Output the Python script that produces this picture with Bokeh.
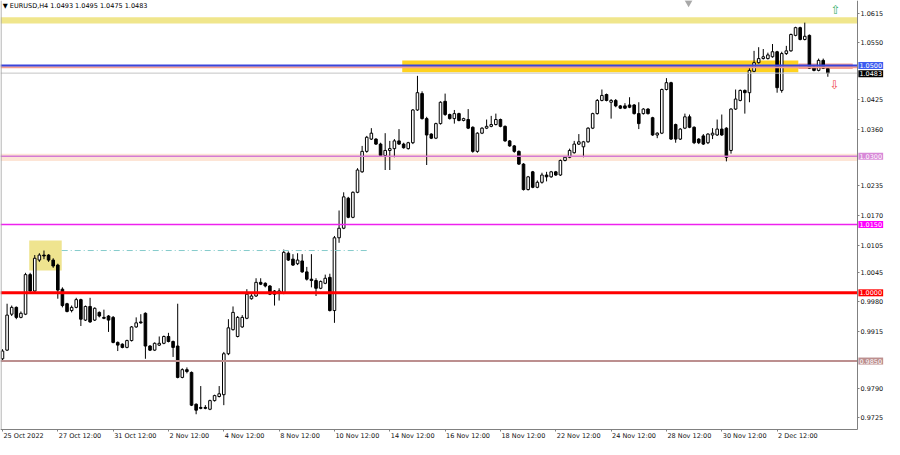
from bokeh.plotting import figure
from bokeh.models import Range1d, FixedTicker, Label, PrintfTickFormatter, BoxAnnotation, ColumnDataSource
from bokeh.embed import file_html
from bokeh.resources import INLINE

symbol_title = "▼ EURUSD,H4  1.0493 1.0495 1.0475 1.0483"

opens = [0.9855, 0.9874, 0.9953, 0.9968, 0.9946, 0.9953, 1.0040, 1.0004, 1.0072, 1.0083,
         1.0083, 1.0072, 1.0061, 1.0008, 0.9976, 0.9961, 0.9968, 0.9985, 0.9940, 0.9970,
         0.9940, 0.9957, 0.9946, 0.9949, 0.9946, 0.9891, 0.9887, 0.9880, 0.9895, 0.9925,
         0.9936, 0.9955, 0.9883, 0.9874, 0.9885, 0.9889, 0.9904, 0.9893, 0.9883, 0.9814,
         0.9831, 0.9825, 0.9755, 0.9748, 0.9748, 0.9744, 0.9763, 0.9772, 0.9776, 0.9866,
         0.9919, 0.9904, 0.9925, 0.9944, 0.9987, 0.9993, 1.0023, 1.0021, 1.0015, 1.0004,
         1.0000, 1.0000, 1.0087, 1.0074, 1.0064, 1.0070, 1.0046, 1.0030, 1.0027, 1.0010,
         1.0021, 1.0034, 0.9961, 1.0121, 1.0142, 1.0208, 1.0166, 1.0221, 1.0266, 1.0311,
         1.0338, 1.0338, 1.0327, 1.0302, 1.0313, 1.0317, 1.0334, 1.0327, 1.0317, 1.0330,
         1.0402, 1.0438, 1.0383, 1.0349, 1.0340, 1.0372, 1.0421, 1.0392, 1.0383, 1.0394,
         1.0379, 1.0381, 1.0364, 1.0311, 1.0351, 1.0362, 1.0366, 1.0370, 1.0381, 1.0366,
         1.0334, 1.0323, 1.0311, 1.0283, 1.0227, 1.0266, 1.0232, 1.0243, 1.0259, 1.0255,
         1.0266, 1.0259, 1.0291, 1.0298, 1.0308, 1.0327, 1.0321, 1.0332, 1.0362, 1.0394,
         1.0423, 1.0436, 1.0419, 1.0423, 1.0411, 1.0411, 1.0413, 1.0413, 1.0394, 1.0394,
         1.0404, 1.0385, 1.0347, 1.0351, 1.0447, 1.0462, 1.0370, 1.0338, 1.0362, 1.0387,
         1.0364, 1.0338, 1.0345, 1.0330, 1.0347, 1.0347, 1.0360, 1.0362, 1.0313, 1.0404,
         1.0423, 1.0445, 1.0440, 1.0487, 1.0506, 1.0515, 1.0515, 1.0519, 1.0530, 1.0445,
         1.0526, 1.0532, 1.0566, 1.0583, 1.0557, 1.0566, 1.0496, 1.0489, 1.0511, 1.0493]

highs = [0.9876, 0.9976, 0.9972, 0.9970, 0.9959, 1.0044, 1.0044, 1.0083, 1.0087, 1.0093,
         1.0085, 1.0076, 1.0064, 1.0012, 0.9978, 0.9972, 0.9989, 0.9987, 0.9972, 0.9989,
         0.9968, 0.9959, 0.9963, 0.9951, 0.9949, 0.9893, 0.9889, 0.9897, 0.9927, 0.9946,
         0.9953, 0.9957, 0.9885, 0.9891, 0.9904, 0.9906, 0.9912, 0.9895, 0.9976, 0.9834,
         0.9836, 0.9827, 0.9757, 0.9795, 0.9753, 0.9765, 0.9776, 0.9795, 0.9870, 0.9942,
         0.9970, 0.9949, 0.9951, 1.0008, 0.9997, 1.0032, 1.0032, 1.0023, 1.0017, 1.0006,
         1.0010, 1.0095, 1.0091, 1.0085, 1.0087, 1.0085, 1.0057, 1.0085, 1.0032, 1.0027,
         1.0040, 1.0042, 1.0125, 1.0181, 1.0221, 1.0211, 1.0223, 1.0274, 1.0323, 1.0345,
         1.0362, 1.0340, 1.0330, 1.0351, 1.0334, 1.0338, 1.0360, 1.0330, 1.0332, 1.0404,
         1.0477, 1.0443, 1.0387, 1.0351, 1.0374, 1.0421, 1.0438, 1.0394, 1.0402, 1.0396,
         1.0385, 1.0404, 1.0366, 1.0353, 1.0364, 1.0381, 1.0389, 1.0394, 1.0383, 1.0368,
         1.0336, 1.0325, 1.0313, 1.0285, 1.0257, 1.0268, 1.0247, 1.0264, 1.0266, 1.0268,
         1.0268, 1.0293, 1.0300, 1.0317, 1.0334, 1.0349, 1.0334, 1.0364, 1.0396, 1.0426,
         1.0447, 1.0438, 1.0426, 1.0426, 1.0413, 1.0417, 1.0430, 1.0415, 1.0419, 1.0406,
         1.0406, 1.0387, 1.0353, 1.0449, 1.0472, 1.0464, 1.0372, 1.0362, 1.0394, 1.0392,
         1.0366, 1.0340, 1.0349, 1.0351, 1.0362, 1.0381, 1.0392, 1.0364, 1.0406, 1.0447,
         1.0447, 1.0447, 1.0494, 1.0532, 1.0540, 1.0536, 1.0528, 1.0547, 1.0532, 1.0530,
         1.0543, 1.0570, 1.0585, 1.0585, 1.0594, 1.0568, 1.0498, 1.0515, 1.0515, 1.0495]

lows = [0.9848, 0.9872, 0.9949, 0.9942, 0.9944, 0.9951, 1.0002, 1.0002, 1.0068, 1.0074,
        1.0068, 1.0055, 0.9987, 0.9968, 0.9957, 0.9957, 0.9966, 0.9927, 0.9938, 0.9934,
        0.9938, 0.9946, 0.9942, 0.9914, 0.9889, 0.9872, 0.9878, 0.9878, 0.9893, 0.9923,
        0.9932, 0.9855, 0.9872, 0.9872, 0.9883, 0.9887, 0.9891, 0.9859, 0.9812, 0.9812,
        0.9823, 0.9751, 0.9733, 0.9744, 0.9744, 0.9742, 0.9761, 0.9770, 0.9753, 0.9863,
        0.9917, 0.9902, 0.9923, 0.9942, 0.9985, 0.9991, 1.0017, 1.0012, 0.9995, 0.9972,
        0.9983, 0.9997, 1.0070, 1.0059, 1.0061, 1.0044, 1.0027, 1.0012, 0.9993, 1.0008,
        1.0019, 0.9959, 0.9934, 1.0110, 1.0140, 1.0164, 1.0164, 1.0219, 1.0264, 1.0308,
        1.0336, 1.0325, 1.0300, 1.0270, 1.0270, 1.0298, 1.0325, 1.0317, 1.0315, 1.0327,
        1.0400, 1.0381, 1.0281, 1.0338, 1.0338, 1.0370, 1.0389, 1.0381, 1.0372, 1.0377,
        1.0377, 1.0360, 1.0308, 1.0308, 1.0349, 1.0360, 1.0364, 1.0368, 1.0364, 1.0332,
        1.0321, 1.0308, 1.0281, 1.0225, 1.0225, 1.0230, 1.0230, 1.0240, 1.0245, 1.0253,
        1.0257, 1.0257, 1.0289, 1.0296, 1.0306, 1.0325, 1.0298, 1.0330, 1.0360, 1.0392,
        1.0421, 1.0421, 1.0383, 1.0408, 1.0404, 1.0404, 1.0406, 1.0392, 1.0360, 1.0392,
        1.0392, 1.0345, 1.0340, 1.0349, 1.0445, 1.0336, 1.0330, 1.0336, 1.0360, 1.0362,
        1.0327, 1.0327, 1.0325, 1.0327, 1.0338, 1.0345, 1.0345, 1.0289, 1.0306, 1.0402,
        1.0421, 1.0394, 1.0419, 1.0485, 1.0504, 1.0513, 1.0513, 1.0517, 1.0440, 1.0440,
        1.0523, 1.0530, 1.0564, 1.0555, 1.0555, 1.0492, 1.0487, 1.0487, 1.0492, 1.0475]

closes = [0.9872, 0.9951, 0.9968, 0.9946, 0.9955, 1.0040, 1.0004, 1.0076, 1.0083, 1.0081,
          1.0072, 1.0059, 1.0006, 0.9972, 0.9959, 0.9968, 0.9985, 0.9942, 0.9970, 0.9936,
          0.9966, 0.9949, 0.9944, 0.9940, 0.9891, 0.9885, 0.9880, 0.9895, 0.9925, 0.9934,
          0.9934, 0.9883, 0.9874, 0.9889, 0.9889, 0.9904, 0.9893, 0.9880, 0.9814, 0.9831,
          0.9827, 0.9753, 0.9742, 0.9746, 0.9746, 0.9763, 0.9774, 0.9778, 0.9866, 0.9923,
          0.9957, 0.9946, 0.9946, 0.9997, 0.9993, 1.0023, 1.0019, 1.0015, 0.9997, 0.9997,
          1.0004, 1.0089, 1.0072, 1.0061, 1.0072, 1.0046, 1.0030, 1.0027, 1.0010, 1.0025,
          1.0032, 0.9961, 1.0121, 1.0142, 1.0211, 1.0166, 1.0221, 1.0270, 1.0311, 1.0342,
          1.0351, 1.0327, 1.0302, 1.0313, 1.0317, 1.0334, 1.0327, 1.0319, 1.0330, 1.0402,
          1.0440, 1.0383, 1.0347, 1.0340, 1.0372, 1.0419, 1.0392, 1.0383, 1.0394, 1.0379,
          1.0383, 1.0362, 1.0311, 1.0351, 1.0362, 1.0366, 1.0370, 1.0381, 1.0366, 1.0334,
          1.0323, 1.0311, 1.0283, 1.0227, 1.0255, 1.0232, 1.0243, 1.0259, 1.0255, 1.0266,
          1.0259, 1.0291, 1.0298, 1.0313, 1.0327, 1.0332, 1.0332, 1.0362, 1.0394, 1.0423,
          1.0434, 1.0423, 1.0423, 1.0411, 1.0406, 1.0406, 1.0408, 1.0394, 1.0372, 1.0404,
          1.0394, 1.0347, 1.0351, 1.0447, 1.0462, 1.0338, 1.0338, 1.0360, 1.0387, 1.0364,
          1.0330, 1.0330, 1.0327, 1.0349, 1.0351, 1.0360, 1.0347, 1.0298, 1.0404, 1.0426,
          1.0445, 1.0440, 1.0489, 1.0506, 1.0515, 1.0519, 1.0523, 1.0530, 1.0451, 1.0526,
          1.0532, 1.0568, 1.0583, 1.0557, 1.0564, 1.0494, 1.0489, 1.0511, 1.0494, 1.0483]

date_ticks = [0, 12, 24, 36, 48, 60, 72, 84, 96, 108, 120, 132, 144, 156, 168]
date_labels = ["25 Oct 2022", "27 Oct 12:00", "31 Oct 12:00", "2 Nov 12:00", "4 Nov 12:00",
               "8 Nov 12:00", "10 Nov 12:00", "14 Nov 12:00", "16 Nov 12:00", "18 Nov 12:00",
               "22 Nov 12:00", "24 Nov 12:00", "28 Nov 12:00", "30 Nov 12:00", "2 Dec 12:00"]
price_ticks = [1.0615, 1.0550, 1.0425, 1.0360, 1.0235, 1.0170, 1.0105, 1.0045,
               0.9980, 0.9915, 0.9790, 0.9725]

# horizontal levels
level_prices = [1.0500, 1.0300, 1.0150, 1.0000, 0.9850]
level_colors = ["#3b45dc", "#d47ad4", "#ee22ee", "#ff0000", "#bc8f8f"]
level_widths = [2, 1.5, 1.5, 3, 2]
level_box_colors = ["#3c5cf0", "#d88ad8", "#ff00ff", "#ff0000", "#bc8f8f"]
current_price = 1.0483

# zones
top_band = (1.0592, 1.0606)
gold_zone = (86.7, 172.6, 1.0485, 1.0511)
salmon_zone = (172.6, 184.4, 1.0492, 1.0504)
peach_band = (1.0290, 1.0306)
flag_box = (5.8, 12.85, 1.0049, 1.0115)
dashdot_line = (12.85, 79.4, 1.0093)

# canvas geometry (in data units)
X0, X1 = -0.428, 191.29        # whole canvas width
Y0, Y1 = 0.96775, 1.06427      # whole canvas height
AXIS_X = 185.43                # price axis position
AXIS_Y = 0.96994               # time axis position
DATE_Y = 0.96940               # top of the date labels
FONT = "DejaVu Sans"

p = figure(width=884, height=439, x_range=Range1d(X0, X1), y_range=Range1d(Y0, Y1),
           output_backend="svg", toolbar_location=None, y_axis_location="right",
           min_border_left=0, min_border_top=0, min_border_right=0, min_border_bottom=0)
p.grid.visible = False
p.background_fill_color = "white"
p.border_fill_color = "white"
p.outline_line_color = None

# zones under candles
p.add_layout(BoxAnnotation(right=AXIS_X, bottom=top_band[0], top=top_band[1], fill_color="#f0e68c",
                           fill_alpha=1, line_color=None, level="underlay"))
p.add_layout(BoxAnnotation(left=gold_zone[0], right=gold_zone[1], bottom=gold_zone[2], top=gold_zone[3],
                           fill_color="#ffd21f", fill_alpha=1, line_color=None, level="underlay"))
p.add_layout(BoxAnnotation(left=salmon_zone[0], right=salmon_zone[1], bottom=salmon_zone[2], top=salmon_zone[3],
                           fill_color="#f5a092", fill_alpha=1, line_color=None, level="underlay"))
p.add_layout(BoxAnnotation(right=AXIS_X, bottom=peach_band[0], top=peach_band[1], fill_color="#fde5d6",
                           fill_alpha=1, line_color=None, level="underlay"))
p.add_layout(BoxAnnotation(left=flag_box[0], right=flag_box[1], bottom=flag_box[2], top=flag_box[3],
                           fill_color="#efe48f", fill_alpha=1, line_color=None, level="underlay"))

# candles
idx = list(range(len(opens)))
tops = [max(o, c) for o, c in zip(opens, closes)]
bottoms = [min(o, c) for o, c in zip(opens, closes)]
fills = ["white" if c >= o else "black" for o, c in zip(opens, closes)]
src = ColumnDataSource(dict(x=idx, hi=highs, lo=lows, top=tops, bottom=bottoms, fill=fills))
p.segment(x0="x", y0="lo", x1="x", y1="hi", source=src, line_color="black", line_width=1)
p.vbar(x="x", width=0.56, top="top", bottom="bottom", source=src, fill_color="fill",
       line_color="black", line_width=1)

# dash-dot line
p.segment(x0=[dashdot_line[0]], y0=[dashdot_line[2]], x1=[dashdot_line[1]], y1=[dashdot_line[2]],
          line_color="#86cccc", line_width=1, line_dash="6 3 1 3")

# level lines (stop at the price axis)
p.segment(x0=[X0], y0=[current_price], x1=[AXIS_X], y1=[current_price], line_color="#c4c4c4", line_width=1)
p.segment(x0=[X0], y0=[1.0496], x1=[AXIS_X], y1=[1.0496], line_color="#f5a092", line_width=2)
p.segment(x0=[X0] * len(level_prices), y0=level_prices, x1=[AXIS_X] * len(level_prices), y1=level_prices,
          line_color=level_colors, line_width=level_widths)

# left frame border
p.segment(x0=[X0 + 0.12], y0=[AXIS_Y], x1=[X0 + 0.12], y1=[Y1], line_color="#a0a0a0", line_width=1)

# axes (fixed inside the canvas)
ya = p.yaxis[0]
ya.fixed_location = AXIS_X
ya.bounds = (AXIS_Y, Y1)
ya.ticker = FixedTicker(ticks=price_ticks)
ya.formatter = PrintfTickFormatter(format="%.4f")
ya.major_label_text_font = FONT
ya.major_label_text_font_size = "6.5px"
ya.major_label_text_color = "#111111"
ya.major_tick_out = 2
ya.major_tick_in = 0
ya.minor_tick_out = 0
ya.minor_tick_in = 0
ya.major_label_standoff = 1
ya.axis_line_color = "#808080"
ya.major_tick_line_color = "#808080"

xa = p.xaxis[0]
xa.fixed_location = AXIS_Y
xa.bounds = (X0, AXIS_X)
xa.ticker = FixedTicker(ticks=date_ticks)
xa.major_label_overrides = {t: "" for t in date_ticks}
xa.major_label_text_font_size = "6.5px"
xa.major_tick_out = 2
xa.major_tick_in = 0
xa.minor_tick_out = 0
xa.minor_tick_in = 0
xa.axis_line_color = "#808080"
xa.major_tick_line_color = "#808080"

# date labels, left aligned at their ticks as in the terminal
for t, lab in zip(date_ticks, date_labels):
    p.add_layout(Label(x=t, y=DATE_Y, text=lab, text_font=FONT, text_font_size="6.5px",
                       text_color="#111111", text_align="left", text_baseline="top", x_offset=1))

# price boxes on the right axis
for lp, bc in zip(level_prices, level_box_colors):
    p.add_layout(Label(x=AXIS_X + 0.2, y=lp, text="%.4f" % lp, text_font=FONT, text_font_size="6.5px",
                       text_color="white", text_align="left", text_baseline="middle",
                       background_fill_color=bc, background_fill_alpha=1, padding=1))
p.add_layout(Label(x=AXIS_X + 0.2, y=current_price - 0.00012, text="%.4f" % current_price, text_font=FONT,
                   text_font_size="6.5px", text_color="white", text_align="left", text_baseline="middle",
                   background_fill_color="black", background_fill_alpha=1, padding=1))

# title
p.add_layout(Label(x=X0 + 0.5, y=1.0630, text=symbol_title, text_font=FONT, text_font_size="6.5px",
                   text_color="black", text_align="left", text_baseline="middle"))

# arrows and shift marker
p.add_layout(Label(x=180.7, y=1.0621, text="⇧", text_font=FONT, text_font_size="12px",
                   text_color="#35b06a", text_align="center", text_baseline="middle"))
p.add_layout(Label(x=180.5, y=1.0457, text="⇩", text_font=FONT, text_font_size="12px",
                   text_color="#f04a4a", text_align="center", text_baseline="middle"))
p.scatter(x=[148.8], y=[1.0638], marker="inverted_triangle", size=8, fill_color="#a8a8a8", line_color=None)

open("out.html", "w").write(file_html(p, INLINE))
